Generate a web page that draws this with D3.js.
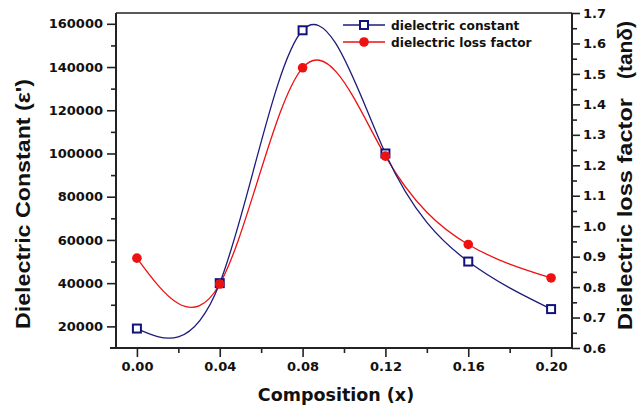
<!DOCTYPE html>
<html>
<head>
<meta charset="utf-8">
<script src="https://cdn.jsdelivr.net/npm/d3@7"></script>
<style>
  html, body { margin: 0; padding: 0; background: #fff; }
  svg { display: block; }
  .tick text { font-family: "DejaVu Sans", Verdana, sans-serif; font-weight: bold; font-size: 13px; fill: #111; }
</style>
</head>
<body>
<svg id="chart" width="644" height="408"></svg>
<script>
// Composition values on the x axis
const composition = [0.00, 0.04, 0.08, 0.12, 0.16, 0.20];
// Dielectric constant (left axis)
const dielectricConstant = [19000, 40000, 157000, 100000, 50000, 28000];
// Dielectric loss factor tanδ (right axis)
const lossFactor = [0.895, 0.81, 1.52, 1.23, 0.94, 0.83];

// Tick values
const xMajorTicks = [0.00, 0.04, 0.08, 0.12, 0.16, 0.20];
const xMinorTicks = [0.02, 0.06, 0.10, 0.14, 0.18];
const leftMajorTicks = [20000, 40000, 60000, 80000, 100000, 120000, 140000, 160000];
const leftMinorTicks = [30000, 50000, 70000, 90000, 110000, 130000, 150000];
const rightMajorTicks = [0.6, 0.7, 0.8, 0.9, 1.0, 1.1, 1.2, 1.3, 1.4, 1.5, 1.6, 1.7];
const rightMinorTicks = [0.65, 0.75, 0.85, 0.95, 1.05, 1.15, 1.25, 1.35, 1.45, 1.55, 1.65];

// Text
const seriesNames = ["dielectric constant", "dielectric loss factor"];
const xTitle = "Composition (x)";
const leftTitle = "Dielectric Constant (\u03B5')";
const rightTitleParts = ["Dielectric loss factor", "(tan\u03B4)"];

const svg = d3.select("#chart");
const plot = { left: 116, right: 572, top: 13, bottom: 348 };

const x = d3.scaleLinear().domain([-0.0101, 0.2101]).range([plot.left, plot.right]);
const yL = d3.scaleLinear().domain([10000, 165000]).range([plot.bottom, plot.top]);
const yR = d3.scaleLinear().domain([0.6, 1.7]).range([plot.bottom, plot.top]);

const axisColor = "#222";

// Frame: top border
svg.append("line")
  .attr("x1", plot.left).attr("x2", plot.right)
  .attr("y1", plot.top).attr("y2", plot.top)
  .attr("stroke", axisColor).attr("stroke-width", 1.6);

function styleAxis(g) {
  g.select(".domain").remove();
  g.selectAll(".tick line").attr("stroke", axisColor).attr("stroke-width", 1.6);
}

// Bottom axis
svg.append("g").attr("transform", `translate(0,${plot.bottom})`)
  .call(d3.axisBottom(x).tickValues(xMajorTicks).tickSize(9).tickPadding(5)
    .tickFormat(d3.format(".2f"))).call(styleAxis);
svg.append("g").attr("transform", `translate(0,${plot.bottom})`)
  .call(d3.axisBottom(x).tickValues(xMinorTicks).tickSize(5).tickFormat(""))
  .call(styleAxis);
svg.append("line")
  .attr("x1", plot.left - 6).attr("x2", plot.right)
  .attr("y1", plot.bottom).attr("y2", plot.bottom)
  .attr("stroke", axisColor).attr("stroke-width", 2);

// Left axis
svg.append("g").attr("transform", `translate(${plot.left},0)`)
  .call(d3.axisLeft(yL).tickValues(leftMajorTicks).tickSize(9).tickPadding(4)
    .tickFormat(d3.format("d"))).call(styleAxis);
svg.append("g").attr("transform", `translate(${plot.left},0)`)
  .call(d3.axisLeft(yL).tickValues(leftMinorTicks).tickSize(5).tickFormat(""))
  .call(styleAxis);
svg.append("line")
  .attr("x1", plot.left).attr("x2", plot.left)
  .attr("y1", plot.top).attr("y2", plot.bottom + 1)
  .attr("stroke", axisColor).attr("stroke-width", 2);

// Right axis
svg.append("g").attr("transform", `translate(${plot.right},0)`)
  .call(d3.axisRight(yR).tickValues(rightMajorTicks).tickSize(8).tickPadding(3)
    .tickFormat(d3.format(".1f"))).call(styleAxis);
svg.append("g").attr("transform", `translate(${plot.right},0)`)
  .call(d3.axisRight(yR).tickValues(rightMinorTicks).tickSize(5).tickFormat(""))
  .call(styleAxis);
svg.append("line")
  .attr("x1", plot.right).attr("x2", plot.right)
  .attr("y1", plot.top).attr("y2", plot.bottom + 1)
  .attr("stroke", axisColor).attr("stroke-width", 2);

// Axis titles
svg.append("text")
  .attr("x", 336).attr("y", 401)
  .attr("text-anchor", "middle")
  .attr("font-family", "DejaVu Sans, Verdana, sans-serif")
  .attr("font-weight", "bold").attr("font-size", 17.5)
  .attr("fill", "#111")
  .text(xTitle);

function sideTitle(cx, cy, len, txt) {
  svg.append("text")
    .attr("transform", `translate(${cx},${cy}) rotate(-90)`)
    .attr("text-anchor", "middle")
    .attr("font-family", "Liberation Sans, Arial, sans-serif")
    .attr("font-weight", "bold").attr("font-size", 20.5)
    .attr("textLength", len).attr("lengthAdjust", "spacingAndGlyphs")
    .attr("fill", "#111")
    .text(txt);
}
sideTitle(30, 204, 250, leftTitle);
sideTitle(632, 214, 232, rightTitleParts[0]);
sideTitle(632, 50, 58, rightTitleParts[1]);

// Series
const blue = "#1c1c7a";
const red = "#ee1111";

const lineL = d3.line().curve(d3.curveNatural)
  .x((d, i) => x(composition[i])).y(d => yL(d));
const lineR = d3.line().curve(d3.curveNatural)
  .x((d, i) => x(composition[i])).y(d => yR(d));

svg.append("path").datum(lossFactor)
  .attr("d", lineR).attr("fill", "none")
  .attr("stroke", red).attr("stroke-width", 1.3);
svg.append("path").datum(dielectricConstant)
  .attr("d", lineL).attr("fill", "none")
  .attr("stroke", blue).attr("stroke-width", 1.3);

svg.append("g").selectAll("rect").data(dielectricConstant).join("rect")
  .attr("x", (d, i) => x(composition[i]) - 4)
  .attr("y", d => yL(d) - 4)
  .attr("width", 8).attr("height", 8)
  .attr("fill", "#fff").attr("stroke", "#12127a").attr("stroke-width", 2);

svg.append("g").selectAll("circle").data(lossFactor).join("circle")
  .attr("cx", (d, i) => x(composition[i]))
  .attr("cy", d => yR(d))
  .attr("r", 4.8)
  .attr("fill", red);

// Legend
const legend = svg.append("g");
const legY = [25, 42];
legend.append("line").attr("x1", 343).attr("x2", 385).attr("y1", legY[0]).attr("y2", legY[0])
  .attr("stroke", blue).attr("stroke-width", 1.3);
legend.append("rect").attr("x", 360).attr("y", legY[0] - 4).attr("width", 8).attr("height", 8)
  .attr("fill", "#fff").attr("stroke", "#12127a").attr("stroke-width", 2);
legend.append("line").attr("x1", 343).attr("x2", 385).attr("y1", legY[1]).attr("y2", legY[1])
  .attr("stroke", red).attr("stroke-width", 1.3);
legend.append("circle").attr("cx", 364).attr("cy", legY[1]).attr("r", 4.8).attr("fill", red);
legend.selectAll("text").data(seriesNames).join("text")
  .attr("x", 391).attr("y", (d, i) => legY[i] + 4.5)
  .attr("font-family", "DejaVu Sans, Verdana, sans-serif")
  .attr("font-weight", "bold").attr("font-size", 12.2)
  .attr("fill", "#111")
  .text(d => d);
</script>
</body>
</html>
